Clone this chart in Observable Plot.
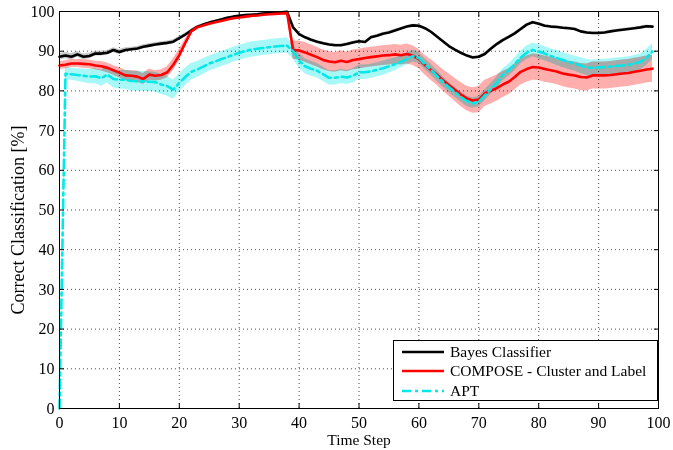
<!DOCTYPE html>
<html>
<head>
<meta charset="utf-8">
<script src="https://cdn.jsdelivr.net/npm/d3@7"></script>
<script src="https://cdn.jsdelivr.net/npm/@observablehq/plot@0.6"></script>
<style>
  body { margin: 0; background: #fff; }
  #wrap { position: relative; width: 673px; height: 450px; }
  #legend { position: absolute; left: 393px; top: 340px; width: 265px; height: 61px; box-sizing: border-box;
    border: 1px solid #000; background: #fff; font-family: "Liberation Serif", serif; font-size: 15.5px; color: #000;
    padding-top: 1px; }
  .row { display: flex; align-items: center; height: 19.5px; }
  .row svg { margin-left: 8px; margin-right: 6px; }
</style>
</head>
<body>
<div id="wrap"><div id="legend"></div></div>
<script>
const timeSteps = Array.from({length: 100}, (_, i) => i);

const bayes = [
  88.6, 88.9, 88.6, 89.2, 88.6, 88.8, 89.4, 89.4, 89.6, 90.3,
  89.8, 90.3, 90.5, 90.7, 91.1, 91.4, 91.7, 91.9, 92.1, 92.4,
  93.3, 94.2, 95.2, 96.1, 96.7, 97.2, 97.6, 98.0, 98.4, 98.7,
  98.9, 99.1, 99.2, 99.3, 99.5, 99.6, 99.7, 99.8, 99.9, 96.0,
  94.3, 93.5, 92.9, 92.4, 92.0, 91.7, 91.5, 91.5, 91.8, 92.2,
  92.5, 92.3, 93.5, 93.9, 94.4, 94.7, 95.2, 95.7, 96.2, 96.5,
  96.4, 95.8, 94.9, 93.7, 92.5, 91.3, 90.4, 89.6, 88.9, 88.4,
  88.6, 89.3, 90.6, 91.8, 92.8, 93.6, 94.5, 95.6, 96.7, 97.3,
  96.9, 96.4, 96.2, 96.1, 95.9, 95.8, 95.6, 95.0, 94.7, 94.6,
  94.6, 94.7, 95.0, 95.2, 95.4, 95.6, 95.8, 96.0, 96.3, 96.2
];
const compose = [
  86.4, 86.6, 86.9, 86.9, 86.8, 86.7, 86.4, 86.2, 85.8, 85.2,
  84.6, 83.9, 83.8, 83.6, 83.0, 84.1, 83.8, 84.0, 84.7, 86.6,
  89.0, 92.1, 95.0, 96.0, 96.5, 96.9, 97.3, 97.6, 98.0, 98.3,
  98.5, 98.7, 98.9, 99.0, 99.2, 99.3, 99.4, 99.5, 99.6, 90.3,
  90.2, 89.7, 89.1, 88.5, 87.8, 87.4, 87.2, 87.6, 87.3, 87.8,
  88.0, 88.3, 88.5, 88.7, 88.9, 89.0, 89.2, 89.0, 89.3, 88.9,
  88.0, 86.5, 85.3, 84.1, 82.7, 81.5, 80.3, 79.1, 78.1, 77.6,
  77.8, 79.4, 80.0, 80.7, 81.6, 82.3, 83.5, 84.8, 85.5, 86.0,
  85.9, 85.5, 85.2, 84.9, 84.4, 84.1, 83.9, 83.5, 83.4, 83.9,
  83.9, 83.9, 84.0, 84.2, 84.4, 84.5, 84.8, 85.1, 85.4, 85.6
];
const apt = [
   0.0, 84.3, 84.2, 84.0, 83.8, 83.6, 83.7, 83.2, 84.1, 83.0,
  82.8, 82.8, 82.5, 82.4, 82.4, 82.3, 82.2, 81.6, 81.2, 80.3,
  82.0, 83.5, 84.8, 85.4, 86.1, 86.9, 87.4, 88.0, 88.5, 89.1,
  89.6, 90.0, 90.4, 90.6, 90.8, 91.0, 91.2, 91.3, 91.4, 90.0,
  87.6, 86.2, 85.6, 85.1, 84.2, 83.3, 83.3, 83.6, 83.4, 83.8,
  84.7, 84.7, 84.9, 85.3, 85.7, 86.2, 86.7, 87.3, 88.0, 88.8,
  88.3, 86.7, 85.4, 83.8, 82.3, 80.9, 79.7, 78.5, 77.4, 76.9,
  77.3, 78.9, 80.4, 82.0, 84.0, 85.2, 86.7, 88.4, 89.6, 90.3,
  89.9, 89.4, 88.8, 88.3, 87.8, 87.3, 86.9, 86.4, 85.9, 85.8,
  85.9, 86.0, 86.1, 86.3, 86.4, 86.6, 86.9, 87.3, 88.4, 89.9
];

// half-widths of the shaded bands
const bayesStd = [
  0.8, 0.8, 0.8, 0.7, 0.7, 0.7, 0.6, 0.6, 0.6, 0.6,
  0.6, 0.6, 0.5, 0.5, 0.5, 0.5, 0.5, 0.5, 0.5, 0.5,
  0.4, 0.4, 0.3, 0.3, 0.3, 0.3, 0.2, 0.2, 0.2, 0.2,
  0.2, 0.2, 0.2, 0.2, 0.2, 0.2, 0.2, 0.2, 0.1, 0.3,
  0.3, 0.3, 0.3, 0.3, 0.3, 0.3, 0.3, 0.3, 0.3, 0.3,
  0.3, 0.3, 0.3, 0.3, 0.3, 0.3, 0.3, 0.3, 0.3, 0.3,
  0.3, 0.3, 0.3, 0.3, 0.3, 0.3, 0.3, 0.3, 0.3, 0.3,
  0.3, 0.3, 0.3, 0.3, 0.3, 0.3, 0.3, 0.3, 0.3, 0.3,
  0.3, 0.3, 0.3, 0.3, 0.3, 0.3, 0.3, 0.3, 0.3, 0.3,
  0.3, 0.3, 0.3, 0.3, 0.3, 0.3, 0.3, 0.3, 0.3, 0.3
];
const composeStd = [
  1.0, 1.0, 1.0, 1.0, 1.1, 1.1, 1.1, 1.2, 1.2, 1.2,
  1.3, 1.3, 1.3, 1.4, 1.4, 1.4, 1.3, 1.3, 1.4, 1.5,
  1.4, 1.0, 0.6, 0.4, 0.4, 0.4, 0.4, 0.4, 0.4, 0.4,
  0.4, 0.4, 0.4, 0.4, 0.4, 0.4, 0.4, 0.4, 0.4, 2.3,
  2.4, 2.5, 2.5, 2.5, 2.5, 2.5, 2.5, 2.5, 2.5, 2.5,
  2.5, 2.5, 2.5, 2.5, 2.5, 2.5, 2.5, 2.5, 2.5, 2.5,
  2.4, 2.5, 2.6, 2.6, 2.7, 2.8, 2.9, 3.0, 3.1, 3.2,
  3.3, 3.3, 3.3, 3.3, 3.3, 3.3, 3.3, 3.3, 3.3, 3.3,
  3.3, 3.3, 3.3, 3.3, 3.3, 3.4, 3.4, 3.4, 3.4, 3.4,
  3.4, 3.4, 3.4, 3.4, 3.4, 3.4, 3.4, 3.4, 3.4, 3.4
];
const aptStd = [
  0.0, 1.5, 1.5, 1.6, 1.7, 1.8, 1.9, 2.0, 2.1, 2.2,
  2.3, 2.4, 2.5, 2.5, 2.5, 2.5, 2.5, 2.5, 2.5, 2.4,
  2.3, 2.2, 2.1, 2.0, 2.0, 1.9, 1.9, 1.9, 1.9, 1.9,
  1.9, 1.9, 1.9, 1.9, 1.9, 1.9, 1.9, 1.9, 1.9, 1.9,
  1.9, 1.9, 1.9, 1.8, 1.8, 1.8, 1.8, 1.8, 1.8, 1.8,
  1.8, 1.8, 1.8, 1.8, 1.8, 1.7, 1.6, 1.5, 1.5, 1.5,
  1.4, 1.4, 1.4, 1.4, 1.3, 1.3, 1.3, 1.3, 1.3, 1.3,
  1.3, 1.4, 1.4, 1.5, 1.5, 1.5, 1.6, 1.6, 1.7, 1.7,
  1.8, 1.8, 1.8, 1.9, 1.9, 1.9, 1.9, 2.0, 2.0, 2.0,
  2.0, 2.0, 2.0, 2.0, 2.0, 2.0, 2.0, 2.0, 2.0, 2.0
];

const seriesNames = ["Bayes Classifier", "COMPOSE - Cluster and Label", "APT"];
const lineColors = ["#000000", "#ff0000", "#00e8e8"];
const bandColors = ["#c8c8c8", "#ffaeae", "#a8f8f8"];
const dashes = [null, null, "9,4,3,4"];
const xTicks = [0, 10, 20, 30, 40, 50, 60, 70, 80, 90, 100];
const yTicks = [0, 10, 20, 30, 40, 50, 60, 70, 80, 90, 100];
const xLabel = "Time Step";
const yLabel = "Correct Classification [%]";

const seriesValues = [bayes, compose, apt];
const seriesStd = [bayesStd, composeStd, aptStd];
const rows = seriesNames.map((name, s) => timeSteps.map((t, i) => ({
  t, v: seriesValues[s][i], lo: seriesValues[s][i] - seriesStd[s][i], hi: seriesValues[s][i] + seriesStd[s][i]
})));

const marks = [
  Plot.gridX(xTicks, {stroke: "#000", strokeOpacity: 0.7, strokeDasharray: "1,3"}),
  Plot.gridY(yTicks, {stroke: "#000", strokeOpacity: 0.7, strokeDasharray: "1,3"})
];
rows.forEach((data, s) => {
  marks.push(Plot.areaY(data, {x: "t", y1: "lo", y2: "hi", fill: bandColors[s], fillOpacity: 1, mixBlendMode: "multiply"}));
});
rows.forEach((data, s) => {
  marks.push(Plot.line(data, {x: "t", y: "v", stroke: lineColors[s], strokeWidth: 2.6,
    strokeDasharray: dashes[s] || undefined, strokeLinejoin: "round"}));
});
marks.push(
  Plot.frame({stroke: "#000", strokeWidth: 1}),
  Plot.axisX(xTicks, {anchor: "bottom", tickSize: 0, tickPadding: 8, fontSize: 16, label: null}),
  Plot.axisX(xTicks, {anchor: "bottom", tickSize: -5, tickFormat: () => "", label: null}),
  Plot.axisX(xTicks, {anchor: "top", tickSize: -5, tickFormat: () => "", label: null}),
  Plot.axisY(yTicks, {anchor: "left", tickSize: 0, tickPadding: 5, fontSize: 16, label: null}),
  Plot.axisY(yTicks, {anchor: "left", tickSize: -5, tickFormat: () => "", label: null}),
  Plot.axisY(yTicks, {anchor: "right", tickSize: -5, tickFormat: () => "", label: null}),
  Plot.text([xLabel], {frameAnchor: "bottom", text: d => d, textAnchor: "middle", dy: 32, fontSize: 15.5, lineAnchor: "middle"}),
  Plot.text([yLabel], {frameAnchor: "left", text: d => d, textAnchor: "middle", rotate: -90, dx: -41, dy: 10, fontSize: 18, lineAnchor: "middle"})
);

const chart = Plot.plot({
  width: 673, height: 450,
  marginLeft: 59, marginRight: 15, marginTop: 11, marginBottom: 42,
  style: {fontFamily: "Liberation Serif, serif", fontSize: "16px", color: "#000", background: "#fff"},
  x: {domain: [0, 100]},
  y: {domain: [0, 100]},
  marks
});
document.getElementById("wrap").prepend(chart);

const legend = document.getElementById("legend");
seriesNames.forEach((name, s) => {
  const row = document.createElement("div");
  row.className = "row";
  row.innerHTML = `<svg width="42" height="6"><line x1="0" y1="3" x2="42" y2="3" stroke="${lineColors[s]}" stroke-width="2.6" ${dashes[s] ? `stroke-dasharray="${dashes[s]}"` : ""}/></svg><span>${name}</span>`;
  legend.appendChild(row);
});
</script>
</body>
</html>
